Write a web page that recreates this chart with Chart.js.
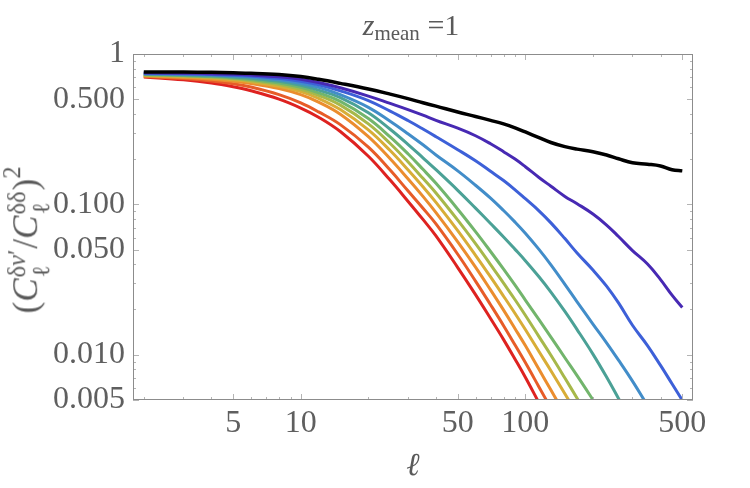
<!DOCTYPE html>
<html>
<head>
<meta charset="utf-8">
<script src="https://cdn.jsdelivr.net/npm/chart.js@4.4.1/dist/chart.umd.min.js"></script>
<style>
  html, body { margin: 0; padding: 0; background: #fff; }
  #wrap { position: relative; width: 750px; height: 488px; }
  #chart { position: absolute; left: 0; top: 0; }
  .lbl { position: absolute; font-family: 'Liberation Serif', 'Times New Roman', serif; color: #5a5a5a; white-space: nowrap; line-height: 1; }
  #title { left: 311px; width: 200px; top: 10px; text-align: center; font-size: 30px; }
  #title sub { font-size: 21px; vertical-align: -0.25em; }
  #xlab { left: 413px; top: 448px; transform: translateX(-50%); font-size: 32px; font-style: italic; }
  #ylab { left: 27px; top: 240px; transform: translate(-50%, -50%) rotate(-90deg); font-size: 35px; }
  .st { display: inline-block; vertical-align: middle; font-size: 0.7em; line-height: 1.0; text-align: left; margin-left: 1px; margin-right: 1px; }
  .st span { display: block; }
  #ylab sup { font-size: 0.7em; vertical-align: 0.7em; }
</style>
</head>
<body>
<div id="wrap">
  <canvas id="chart" width="750" height="488"></canvas>
  <div id="title" class="lbl"><i>z</i><sub>mean</sub> =1</div>
  <div id="xlab" class="lbl">ℓ</div>
  <div id="ylab" class="lbl">(<i>C</i><span class="st"><span>δ<i>v</i>′</span><span>ℓ</span></span>/<i>C</i><span class="st"><span>δδ</span><span>ℓ</span></span>)<sup>2</sup></div>
</div>
<script>
// multipole grid shared by all curves
const ell = [2, 3, 4, 5, 6, 8, 10, 12, 15, 20, 25, 30, 35, 40, 50, 60, 70, 80, 90, 100,
             115, 130, 150, 170, 200, 230, 260, 300, 350, 400, 450, 500];

// ratio curves (each stops once it leaves the bottom of the frame)
const ratioBlack = [0.759, 0.759, 0.755, 0.750, 0.745, 0.730, 0.708, 0.679, 0.638, 0.585, 0.541, 0.505,
  0.474, 0.450, 0.411, 0.384, 0.362, 0.343, 0.323, 0.303, 0.278, 0.258, 0.242, 0.233, 0.224, 0.213,
  0.201, 0.189, 0.185, 0.180, 0.170, 0.167];
const ratioIndigo = [0.750, 0.746, 0.740, 0.733, 0.724, 0.705, 0.679, 0.646, 0.596, 0.525, 0.469, 0.427,
  0.392, 0.362, 0.321, 0.286, 0.253, 0.224, 0.200, 0.178, 0.151, 0.132, 0.113, 0.101, 0.0863, 0.0729,
  0.0611, 0.0493, 0.0401, 0.0316, 0.0249, 0.0206];
const ratioBlue = [0.745, 0.740, 0.731, 0.723, 0.713, 0.689, 0.658, 0.624, 0.569, 0.490, 0.417, 0.361,
  0.317, 0.282, 0.231, 0.195, 0.166, 0.144, 0.125, 0.109, 0.0906, 0.0753, 0.0592, 0.0475, 0.0366, 0.0286,
  0.0221, 0.0157, 0.0115, 0.00849, 0.00641, 0.00498];
const ratioLightBlue = [0.740, 0.733, 0.724, 0.713, 0.702, 0.673, 0.638, 0.600, 0.537, 0.442, 0.357, 0.295,
  0.249, 0.213, 0.167, 0.134, 0.110, 0.0910, 0.0762, 0.0643, 0.0502, 0.0396, 0.0294, 0.0225, 0.0160,
  0.0120, 0.00920, 0.00667, 0.00460];
const ratioTeal = [0.735, 0.726, 0.716, 0.703, 0.689, 0.658, 0.619, 0.575, 0.513, 0.407, 0.316, 0.251,
  0.204, 0.170, 0.124, 0.0944, 0.0746, 0.0607, 0.0502, 0.0422, 0.0330, 0.0261, 0.0194, 0.0147, 0.0101,
  0.00711, 0.00512, 0.00348];
const ratioGreen = [0.730, 0.719, 0.708, 0.693, 0.676, 0.641, 0.600, 0.552, 0.484, 0.372, 0.281, 0.217,
  0.171, 0.138, 0.0929, 0.0659, 0.0486, 0.0371, 0.0290, 0.0231, 0.0171, 0.0131, 0.00955, 0.00726,
  0.00502, 0.00364];
const ratioYellowGreen = [0.724, 0.713, 0.700, 0.684, 0.665, 0.627, 0.582, 0.531, 0.457, 0.343, 0.254,
  0.192, 0.149, 0.119, 0.0785, 0.0548, 0.0398, 0.0299, 0.0232, 0.0183, 0.0132, 0.00991, 0.00700,
  0.00514, 0.00341];
const ratioGold = [0.719, 0.706, 0.692, 0.673, 0.653, 0.610, 0.562, 0.507, 0.427, 0.313, 0.228, 0.170,
  0.131, 0.103, 0.0668, 0.0458, 0.0329, 0.0245, 0.0188, 0.0147, 0.0105, 0.00783, 0.00550, 0.00403];
const ratioOrange = [0.715, 0.697, 0.679, 0.659, 0.637, 0.589, 0.537, 0.479, 0.398, 0.282, 0.201, 0.148,
  0.113, 0.0881, 0.0564, 0.0383, 0.0270, 0.0198, 0.0149, 0.0115, 0.00800, 0.00582, 0.00401];
const ratioOrangeRed = [0.708, 0.687, 0.662, 0.634, 0.603, 0.537, 0.473, 0.412, 0.339, 0.240, 0.169,
  0.123, 0.0942, 0.0741, 0.0466, 0.0309, 0.0215, 0.0156, 0.0116, 0.00887, 0.00611, 0.00440];
const ratioRed = [0.703, 0.673, 0.641, 0.605, 0.569, 0.501, 0.437, 0.380, 0.305, 0.209, 0.145, 0.105,
  0.0794, 0.0617, 0.0380, 0.0251, 0.0174, 0.0126, 0.00933, 0.00708, 0.00479];

const curves = [ratioBlack, ratioIndigo, ratioBlue, ratioLightBlue, ratioTeal, ratioGreen,
  ratioYellowGreen, ratioGold, ratioOrange, ratioOrangeRed, ratioRed];
const curveColors = ['#000000', '#4729b3', '#3d60d8', '#428dc9', '#4ba196', '#72b56c',
  '#a7b84a', '#d8ad37', '#eb8d2e', '#e75c28', '#de2220'];

const xTicks = [5, 10, 50, 100, 500];
const xTickLabels = ['5', '10', '50', '100', '500'];
const yTicks = [0.005, 0.01, 0.05, 0.1, 0.5, 1];
const yTickLabels = ['0.005', '0.010', '0.050', '0.100', '0.500', '1'];
const xMinor = [2, 3, 4, 6, 7, 8, 9, 20, 30, 40, 60, 70, 80, 90, 200, 300, 400];
const yMinor = [0.006, 0.007, 0.008, 0.009, 0.02, 0.03, 0.04, 0.06, 0.07, 0.08, 0.09,
  0.2, 0.3, 0.4, 0.6, 0.7, 0.8, 0.9];

// frame with inward ticks on all four sides, like the original
const frameTicks = {
  id: 'frameTicks',
  afterDatasetsDraw(chart) {
    const { ctx, chartArea: a, scales: { x, y } } = chart;
    ctx.save();
    ctx.lineWidth = 1;
    ctx.strokeStyle = '#b4b4b4';
    const tickX = (v, len) => {
      const px = Math.round(x.getPixelForValue(v)) + 0.5;
      ctx.beginPath();
      ctx.moveTo(px, a.bottom); ctx.lineTo(px, a.bottom - len);
      ctx.moveTo(px, a.top); ctx.lineTo(px, a.top + len);
      ctx.stroke();
    };
    const tickY = (v, len) => {
      const py = Math.round(y.getPixelForValue(v)) + 0.5;
      ctx.beginPath();
      ctx.moveTo(a.left, py); ctx.lineTo(a.left + len, py);
      ctx.moveTo(a.right, py); ctx.lineTo(a.right - len, py);
      ctx.stroke();
    };
    xTicks.forEach(v => tickX(v, 6));
    xMinor.forEach(v => tickX(v, 3));
    yTicks.forEach(v => tickY(v, 6));
    yMinor.forEach(v => tickY(v, 3));
    ctx.strokeStyle = '#8c8c8c';
    ctx.strokeRect(a.left + 0.5, a.top + 0.5, a.right - a.left - 1, a.bottom - a.top - 1);
    ctx.restore();
  }
};

const tickFont = { family: "'Liberation Serif', 'Times New Roman', serif", size: 32 };

new Chart(document.getElementById('chart'), {
  type: 'line',
  data: {
    datasets: curves.map((vals, i) => ({
      data: vals.map((v, j) => ({ x: ell[j], y: v })),
      borderColor: curveColors[i],
      borderWidth: i === 0 ? 3.5 : 3,
      pointRadius: 0,
      tension: 0.4,
      fill: false,
      clip: 0
    }))
  },
  options: {
    responsive: false,
    devicePixelRatio: 1,
    animation: false,
    layout: { padding: { top: 54, right: 57, left: 0, bottom: 0 } },
    plugins: { legend: { display: false }, title: { display: false }, tooltip: { enabled: false } },
    scales: {
      x: {
        type: 'logarithmic',
        min: 1.79,
        max: 558,
        grid: { display: false, drawTicks: false },
        border: { display: false },
        afterBuildTicks: s => { s.ticks = xTicks.map(v => ({ value: v })); },
        afterFit: s => { s.height = 88; },
        ticks: {
          autoSkip: false, maxRotation: 0, padding: 4, color: '#5f5f5f', font: tickFont,
          callback: (v, i) => xTickLabels[i]
        }
      },
      y: {
        type: 'logarithmic',
        min: 0.005,
        max: 1,
        grid: { display: false, drawTicks: false },
        border: { display: false },
        afterBuildTicks: s => { s.ticks = yTicks.map(v => ({ value: v })); },
        afterFit: s => { s.width = 133; },
        ticks: {
          autoSkip: false, padding: 8, color: '#5f5f5f', font: tickFont,
          callback: (v, i) => yTickLabels[i]
        }
      }
    }
  },
  plugins: [frameTicks]
});
</script>
</body>
</html>
